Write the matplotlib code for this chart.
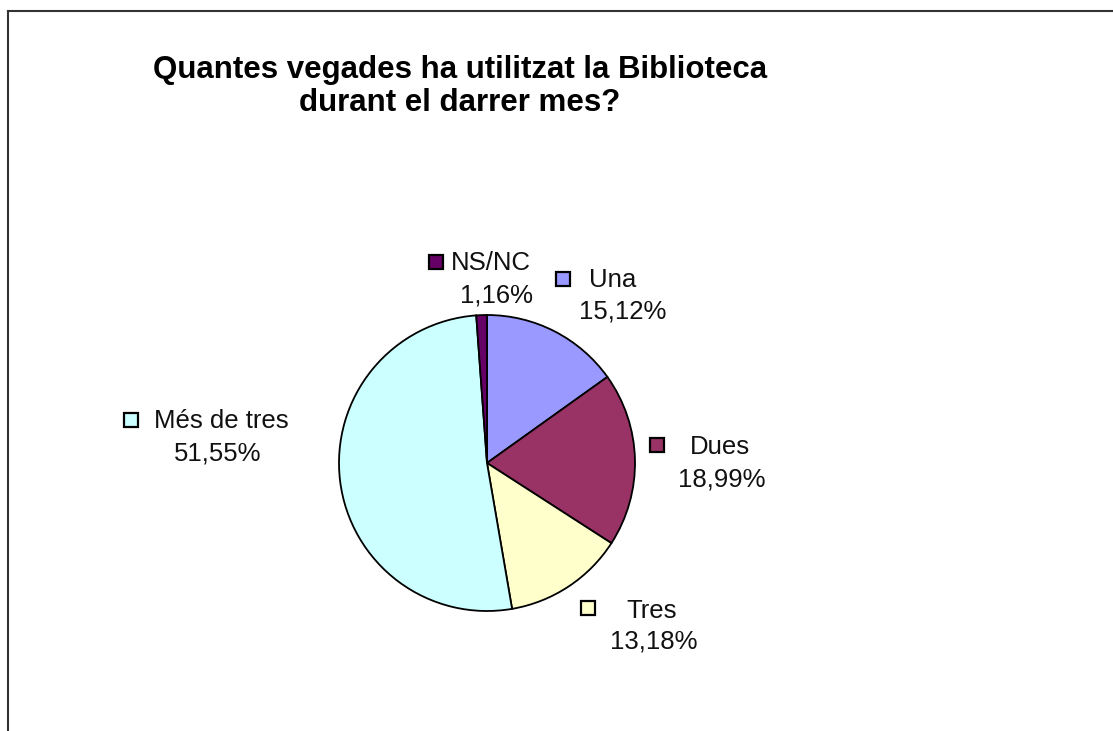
import matplotlib
matplotlib.use("Agg")
import matplotlib.pyplot as plt
from matplotlib.lines import Line2D

plt.rcParams['font.family'] = ['Liberation Sans', 'DejaVu Sans']

# data
categories = ['Una', 'Dues', 'Tres', 'Més de tres', 'NS/NC']
values = [15.12, 18.99, 13.18, 51.55, 1.16]
pct_labels = ['15,12%', '18,99%', '13,18%', '51,55%', '1,16%']
colors = ['#9999FF', '#993366', '#FFFFCC', '#CCFFFF', '#660066']

W, H = 1113, 731
fig = plt.figure(figsize=(W / 100, H / 100), dpi=100)
ax = fig.add_axes([0, 0, 1, 1])


def py(y):
    return H - y


# outer frame (only left and top edges visible)
fig.add_artist(Line2D([8 / W, 8 / W], [0, 1 - 11 / H], transform=fig.transFigure,
                      color='#333333', lw=1.5))
fig.add_artist(Line2D([8 / W, 1], [1 - 11 / H, 1 - 11 / H], transform=fig.transFigure,
                      color='#333333', lw=1.5))

ax.pie(values, colors=colors, startangle=90, counterclock=False,
       center=(487, py(463)), radius=148, frame=True,
       wedgeprops=dict(edgecolor='black', linewidth=1.3))
ax.set_xlim(0, W)
ax.set_ylim(0, H)
ax.set_aspect('equal')
ax.axis('off')

# label layout: square marker, name, percentage (pixel positions)
label_pos = {
    'NS/NC': ((436, 262), (491, 263), (496, 295)),
    'Una': ((563, 279), (613, 280), (623, 312)),
    'Dues': ((657, 445), (720, 447), (722, 480)),
    'Tres': ((588, 608), (652, 611), (654, 642)),
    'Més de tres': ((131, 420), (221, 421), (218, 453)),
}
for cat, pct, col in zip(categories, pct_labels, colors):
    sq, name_xy, pct_xy = label_pos[cat]
    ax.plot(sq[0], py(sq[1]), marker='s', markersize=10, markerfacecolor=col,
            markeredgecolor='black', markeredgewidth=1.6, linestyle='none')
    ax.text(name_xy[0], py(name_xy[1]), cat, ha='center', va='center',
            fontsize=18.5, color='#111111')
    ax.text(pct_xy[0], py(pct_xy[1]), pct, ha='center', va='center',
            fontsize=18.5, color='#111111')

ax.text(460, py(70), 'Quantes vegades ha utilitzat la Biblioteca', ha='center',
        va='center', fontsize=22.5, fontweight='bold', color='black')
ax.text(460, py(103), 'durant el darrer mes?', ha='center', va='center',
        fontsize=22.5, fontweight='bold', color='black')

fig.savefig('out.png', dpi=100, facecolor='white')
